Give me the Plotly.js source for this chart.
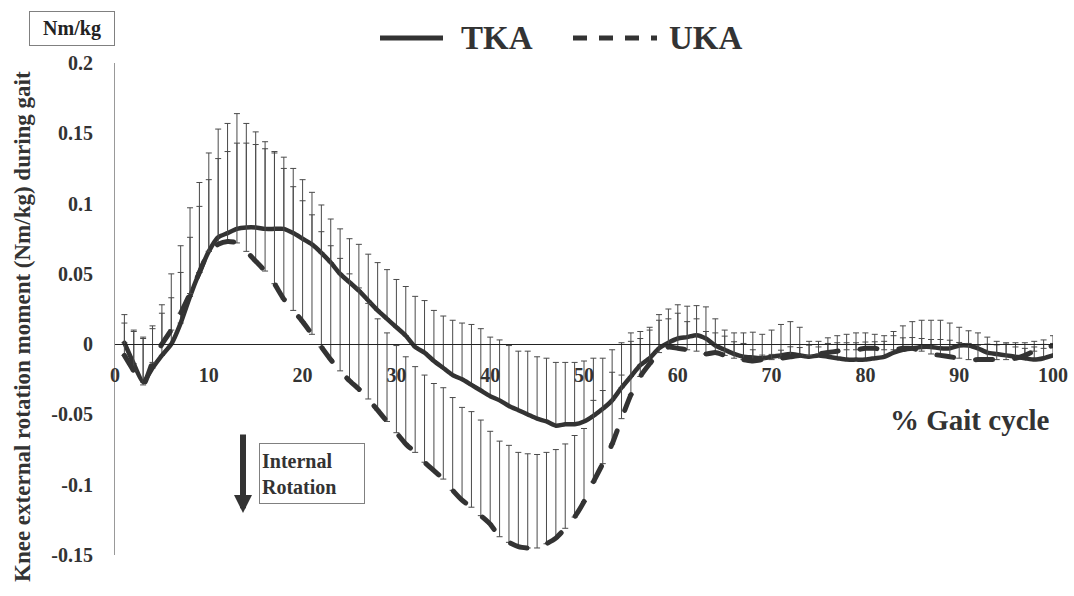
<!DOCTYPE html>
<html>
<head>
<meta charset="utf-8">
<script src="https://cdn.plot.ly/plotly-3.0.1.min.js"></script>
<style>
html,body{margin:0;padding:0;background:#fff;}
#chart{width:1074px;height:596px;}
.scatterlayer .js-line{stroke-linecap:round;stroke-linejoin:round;}
</style>
</head>
<body>
<div id="chart"></div>
<script>
// % of gait cycle (x categories)
const gaitPct = [1,2,3,4,5,6,7,8,9,10,11,12,13,14,15,16,17,18,19,20,
21,22,23,24,25,26,27,28,29,30,31,32,33,34,35,36,37,38,39,40,
41,42,43,44,45,46,47,48,49,50,51,52,53,54,55,56,57,58,59,60,
61,62,63,64,65,66,67,68,69,70,71,72,73,74,75,76,77,78,79,80,
81,82,83,84,85,86,87,88,89,90,91,92,93,94,95,96,97,98,99,100];

// TKA mean and SD (Nm/kg)
const tkaMean = [0.001,-0.014,-0.027,-0.017,-0.008,0.000,0.015,0.034,0.051,0.066,
0.076,0.079,0.082,0.083,0.083,0.082,0.082,0.082,0.079,0.075,
0.071,0.065,0.058,0.050,0.044,0.038,0.031,0.024,0.018,0.012,
0.006,-0.002,-0.006,-0.012,-0.017,-0.022,-0.025,-0.029,-0.033,-0.037,
-0.040,-0.044,-0.047,-0.050,-0.053,-0.055,-0.058,-0.057,-0.057,-0.055,
-0.051,-0.046,-0.040,-0.031,-0.023,-0.015,-0.010,-0.003,0.001,0.004,
0.005,0.0064,0.004,-0.001,-0.004,-0.007,-0.009,-0.0095,-0.010,-0.009,
-0.008,-0.007,-0.008,-0.009,-0.008,-0.009,-0.010,-0.011,-0.011,-0.011,
-0.010,-0.009,-0.006,-0.004,-0.003,-0.002,-0.002,-0.003,-0.003,-0.001,
-0.001,-0.003,-0.006,-0.007,-0.008,-0.009,-0.010,-0.011,-0.010,-0.008];

const tkaSD = [0.020,0.024,0.032,0.030,0.036,0.050,0.055,0.063,0.064,0.070,
0.077,0.078,0.082,0.074,0.068,0.062,0.055,0.051,0.046,0.042,
0.037,0.034,0.031,0.032,0.031,0.033,0.033,0.034,0.035,0.034,
0.035,0.036,0.037,0.036,0.037,0.039,0.040,0.043,0.044,0.042,
0.043,0.043,0.042,0.045,0.044,0.045,0.045,0.044,0.044,0.043,
0.041,0.036,0.036,0.032,0.031,0.024,0.022,0.024,0.024,0.024,
0.022,0.021,0.0225,0.019,0.014,0.015,0.017,0.018,0.017,0.019,
0.022,0.023,0.020,0.011,0.010,0.0135,0.016,0.018,0.019,0.019,
0.017,0.015,0.015,0.017,0.019,0.019,0.019,0.020,0.018,0.013,
0.0105,0.011,0.011,0.009,0.009,0.010,0.011,0.013,0.013,0.014];

// UKA mean and SD (Nm/kg)
const ukaMean = [-0.008,-0.019,-0.029,-0.013,0.000,0.010,0.022,0.036,0.051,0.066,
0.071,0.073,0.072,0.066,0.059,0.052,0.043,0.032,0.024,0.016,
0.007,-0.002,-0.011,-0.019,-0.026,-0.032,-0.039,-0.047,-0.055,-0.063,
-0.071,-0.077,-0.084,-0.090,-0.096,-0.104,-0.111,-0.116,-0.122,-0.128,
-0.137,-0.141,-0.144,-0.145,-0.145,-0.142,-0.138,-0.131,-0.123,-0.112,
-0.098,-0.085,-0.071,-0.053,-0.036,-0.023,-0.014,-0.006,-0.002,-0.003,
-0.004,-0.005,-0.007,-0.006,-0.008,-0.010,-0.011,-0.012,-0.011,-0.011,
-0.010,-0.009,-0.008,-0.008,-0.007,-0.006,-0.005,-0.004,-0.004,-0.003,
-0.003,-0.004,-0.004,-0.003,-0.003,-0.005,-0.007,-0.008,-0.009,-0.010,
-0.011,-0.011,-0.011,-0.011,-0.011,-0.010,-0.008,-0.005,-0.003,-0.001];

const ukaSD = [0.023,0.028,0.033,0.024,0.022,0.023,0.029,0.040,0.047,0.051,
0.061,0.064,0.071,0.077,0.083,0.087,0.093,0.093,0.088,0.086,
0.085,0.082,0.081,0.080,0.076,0.072,0.068,0.065,0.063,0.062,
0.062,0.061,0.062,0.062,0.065,0.066,0.066,0.068,0.068,0.066,
0.068,0.069,0.067,0.067,0.0665,0.065,0.063,0.060,0.058,0.052,
0.058,0.052,0.051,0.031,0.038,0.027,0.024,0.023,0.020,0.025,
0.020,0.023,0.016,0.014,0.0137,0.0117,0.0115,0.008,0.0032,0.0037,
0.0057,0.0071,0.0056,0.0073,0.005,0.0065,0.006,0.005,0.005,0.0045,
0.0047,0.006,0.010,0.0075,0.0077,0.009,0.0103,0.0113,0.0118,0.0112,
0.0115,0.0103,0.011,0.0105,0.011,0.008,0.005,0.003,0.0028,0.0015];

const seriesNames = ['TKA','UKA'];
const xTickVals = [0,10,20,30,40,50,60,70,80,90,100];
const xTickText = ['0','10','20','30','40','50','60','70','80','90','100'];
const yTickVals = [0.2,0.15,0.1,0.05,0,-0.05,-0.1,-0.15];
const yTickText = ['0.2','0.15','0.1','0.05','0','-0.05','-0.1','-0.15'];

const SERIF = '"Liberation Serif","Times New Roman",serif';
const INK = '#333333';
const zeros = gaitPct.map(() => 0);

function errBar(sd){
  return {type:'data', symmetric:false, array:sd, arrayminus:zeros,
          visible:true, color:'#4a4a4a', thickness:1, width:3};
}

const traces = [
  {x:gaitPct, y:tkaMean, name:seriesNames[0], type:'scatter', mode:'lines',
   line:{color:INK, width:4.5, shape:'spline', smoothing:0.6},
   error_y:errBar(tkaSD), showlegend:false, hoverinfo:'x+y'},
  {x:gaitPct, y:ukaMean, name:seriesNames[1], type:'scatter', mode:'lines',
   line:{color:INK, width:5, dash:'17px,22px', shape:'spline', smoothing:0.6},
   error_y:errBar(ukaSD), showlegend:false, hoverinfo:'x+y'}
];

// pixel helpers for decorations only (plot area: x 115..1053, y 63..555)
const PL=115, PR=1053, PT=63, PB=555;
const px = v => (v-PL)/(PR-PL);
const py = v => (PB-v)/(PB-PT);

const yMin=-0.15, yMax=0.2;

const layout = {
  width:1074, height:596,
  margin:{l:PL, r:1074-PR, t:PT, b:596-PB, pad:0},
  paper_bgcolor:'#fff', plot_bgcolor:'#fff',
  font:{family:SERIF, color:INK, size:19, weight:'bold'},
  xaxis:{
    range:[0,100], tickvals:xTickVals, ticktext:xTickText,
    anchor:'free', position:(0-yMin)/(yMax-yMin),
    showline:true, linecolor:'#222', linewidth:1,
    showgrid:false, zeroline:false,
    ticks:'outside', ticklen:13, tickcolor:'rgba(0,0,0,0)',
    tickfont:{family:SERIF, size:20, color:INK, weight:'bold'}
  },
  yaxis:{
    range:[yMin,yMax], tickvals:yTickVals, ticktext:yTickText,
    showline:true, linecolor:'#999', linewidth:1,
    showgrid:false, zeroline:false,
    ticks:'outside', ticklen:17, tickcolor:'rgba(0,0,0,0)',
    tickfont:{family:SERIF, size:20, color:INK, weight:'bold'}
  },
  shapes:[
    {type:'line', xref:'paper', yref:'paper', x0:px(380), x1:px(443), y0:py(38), y1:py(38),
     line:{color:INK, width:5}},
    {type:'line', xref:'paper', yref:'paper', x0:px(573), x1:px(657), y0:py(38), y1:py(38),
     line:{color:INK, width:5, dash:'14px,12px'}}
  ],
  annotations:[
    {xref:'paper', yref:'paper', x:px(497), y:py(38), text:'TKA', showarrow:false,
     xanchor:'center', yanchor:'middle', font:{family:SERIF, size:33, color:INK, weight:'bold'}},
    {xref:'paper', yref:'paper', x:px(706), y:py(38), text:'UKA', showarrow:false,
     xanchor:'center', yanchor:'middle', font:{family:SERIF, size:33, color:INK, weight:'bold'}},
    {xref:'paper', yref:'paper', x:px(72), y:py(28), text:'Nm/kg', showarrow:false,
     xanchor:'center', yanchor:'middle', width:80, height:29, borderpad:2,
     bordercolor:'#808080', borderwidth:1, bgcolor:'#fff',
     font:{family:SERIF, size:20, color:'#222', weight:'bold'}},
    {xref:'paper', yref:'paper', x:px(22), y:py(327), text:'Knee external rotation moment (Nm/kg) during gait',
     showarrow:false, textangle:-90, xanchor:'center', yanchor:'middle',
     font:{family:SERIF, size:23, color:INK, weight:'bold'}},
    {xref:'paper', yref:'paper', x:px(970), y:py(420), text:'% Gait cycle', showarrow:false,
     xanchor:'center', yanchor:'middle', font:{family:SERIF, size:29, color:INK, weight:'bold'}},
    {xref:'paper', yref:'paper', x:px(312), y:py(473.5), text:'Internal<br>Rotation', showarrow:false,
     xanchor:'center', yanchor:'middle', align:'left', width:100, height:55, borderpad:2,
     bordercolor:'#808080', borderwidth:1, bgcolor:'#fff',
     font:{family:SERIF, size:20, color:INK, weight:'bold'}},
    {xref:'paper', yref:'paper', x:px(243), y:py(513), text:'', showarrow:true,
     ax:0, ay:-80, arrowhead:2, arrowsize:0.6, arrowwidth:6, arrowcolor:INK, standoff:0}
  ]
};

Plotly.newPlot('chart', traces, layout, {displayModeBar:false, responsive:false});
</script>
</body>
</html>
